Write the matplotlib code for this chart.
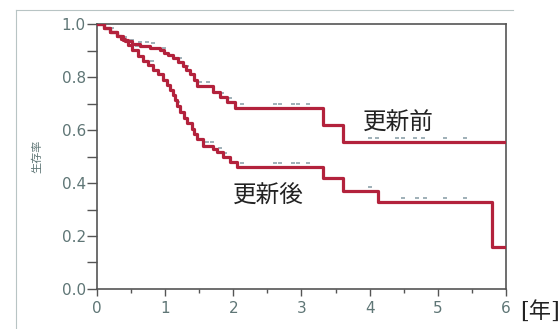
"""Kaplan-Meier survival curves before and after renewal."""

import matplotlib.pyplot as plt
import numpy as np
from matplotlib.lines import Line2D
from matplotlib.ticker import MultipleLocator

# 更新前: step times [year] and survival after each step
before_t = [0, 0.10, 0.19, 0.29, 0.35, 0.41, 0.51, 0.63, 0.78, 0.92, 0.98, 1.04,
            1.11, 1.19, 1.26, 1.31, 1.36, 1.42, 1.47, 1.70, 1.80, 1.90, 2.02, 3.32,
            3.61, 6.0]
before_s = [1.0, 0.985, 0.970, 0.955, 0.945, 0.935, 0.925, 0.917, 0.911, 0.902, 0.892, 0.883,
            0.870, 0.855, 0.840, 0.825, 0.810, 0.790, 0.766, 0.745, 0.725, 0.704, 0.683, 0.619,
            0.555, 0.555]
before_censor = [0.41, 0.51, 0.63, 0.73, 0.82, 0.99, 1.22, 1.32, 1.51, 1.63, 1.70,
                 1.83, 1.95, 2.13, 2.61, 2.68, 2.88, 2.95, 3.09, 4.00, 4.11, 4.40,
                 4.49, 4.66, 4.78, 5.10, 5.40]

# 更新後
after_t = [0, 0.10, 0.19, 0.29, 0.38, 0.45, 0.52, 0.60, 0.68, 0.75, 0.82, 0.89,
           0.97, 1.02, 1.07, 1.11, 1.14, 1.18, 1.22, 1.27, 1.32, 1.39, 1.43, 1.47,
           1.55, 1.70, 1.76, 1.85, 1.95, 2.05, 3.32, 3.61, 4.12, 5.79, 6.0]
after_s = [1.0, 0.985, 0.970, 0.955, 0.940, 0.921, 0.902, 0.879, 0.862, 0.845, 0.828, 0.810,
           0.789, 0.770, 0.751, 0.732, 0.713, 0.690, 0.668, 0.647, 0.626, 0.605, 0.585, 0.566,
           0.540, 0.530, 0.517, 0.498, 0.479, 0.460, 0.419, 0.370, 0.328, 0.158, 0.158]
after_censor = [0.22, 0.59, 0.81, 1.07, 1.19, 1.32, 1.39, 1.47, 1.61, 1.69, 1.80,
                1.88, 2.13, 2.61, 2.68, 2.88, 2.95, 3.09, 4.00, 4.49, 4.69, 4.81,
                5.10, 5.40]

LINE = "#b3223c"
CENSOR = "#8fa3ab"
TICK = "#5f7676"

plt.rcParams["font.family"] = ["DejaVu Sans", "Noto Sans CJK JP"]


def step_value(times, surv, at):
    idx = np.searchsorted(times, at, side="right") - 1
    return np.asarray(surv)[idx]


fig = plt.figure(figsize=(5.59, 3.29), dpi=100)
ax = fig.add_axes([0.1735, 0.1216, 0.7317, 0.8054])

for t, s, c in [(before_t, before_s, before_censor), (after_t, after_s, after_censor)]:
    ax.plot(t, s, drawstyle="steps-post", color=LINE, linewidth=2.3, zorder=3)
    ax.plot(c, step_value(t, s, c) + 0.016, linestyle="none", marker="_",
            markersize=3.5, markeredgewidth=1.2, color=CENSOR, zorder=2)

ax.set_xlim(0, 6)
ax.set_ylim(0, 1.0)
ax.xaxis.set_major_locator(MultipleLocator(1))
ax.xaxis.set_minor_locator(MultipleLocator(0.5))
ax.yaxis.set_major_locator(MultipleLocator(0.2))
ax.yaxis.set_minor_locator(MultipleLocator(0.1))
ax.yaxis.set_major_formatter(lambda v, p: f"{v:.1f}")
ax.tick_params(axis="both", which="both", direction="out", color="#555555",
               labelcolor=TICK, labelsize=11, width=1)
ax.tick_params(axis="y", which="both", length=7, pad=1)
ax.tick_params(axis="x", which="major", length=5, pad=4)
ax.tick_params(axis="x", which="minor", length=3)
for spine in ax.spines.values():
    spine.set_color("#555555")
    spine.set_linewidth(1.2)

ax.set_ylabel("生存率", fontsize=8, color=TICK, family=["Noto Sans CJK JP"], labelpad=14)

ax.text(4.42, 0.625, "更新前", fontsize=17, ha="center", va="center",
        family=["Noto Sans CJK JP"], color="#222222")
ax.text(2.52, 0.351, "更新後", fontsize=17, ha="center", va="center",
        family=["Noto Sans CJK JP"], color="#222222")
ax.text(1.083, -0.087, "[年]", fontsize=16, ha="center", va="center",
        transform=ax.transAxes, family=["DejaVu Serif", "Noto Sans CJK JP"],
        color="#222222")

# thin outer panel frame (top and left edges)
frame = dict(color="#b8c4c4", linewidth=0.8, transform=fig.transFigure)
fig.add_artist(Line2D([0.029, 0.918], [0.970, 0.970], **frame))
fig.add_artist(Line2D([0.029, 0.029], [0.0, 0.970], **frame))

fig.savefig("out.png", dpi=100)
